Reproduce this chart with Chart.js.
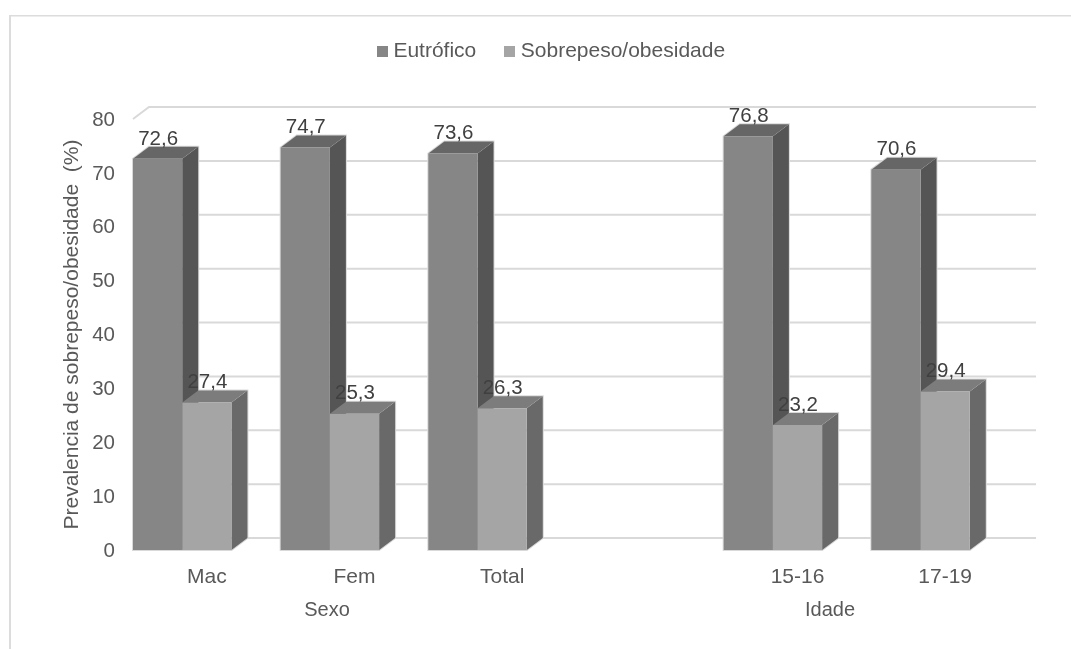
<!DOCTYPE html>
<html>
<head>
<meta charset="utf-8">
<title>Prevalencia de sobrepeso/obesidade</title>
<script src="https://cdn.jsdelivr.net/npm/chart.js@4/dist/chart.umd.js"></script>
<style>
  html, body { margin: 0; padding: 0; background: #fff; }
  canvas { display: block; }
</style>
</head>
<body>
<canvas id="canvas" width="1071" height="649"></canvas>
<script>
// categoria vazia separa Sexo de Idade
var categorias = ['Mac', 'Fem', 'Total', '', '15-16', '17-19'];
var eutrofico = [72.6, 74.7, 73.6, null, 76.8, 70.6];
var sobrepeso = [27.4, 25.3, 26.3, null, 23.2, 29.4];
var grupos = ['Sexo', 'Idade'];

var FONTE = '"Liberation Sans", Arial, sans-serif';
var PROF_X = 16, PROF_Y = 12; // profundidade das barras 3D

var toPoints = function (values) {
	var pts = [];
	values.forEach(function (v, i) {
		if (v !== null) pts.push({ x: i, y: v });
	});
	return pts;
};

// quadradinho da legenda, separado para ficar perto do texto
var legendBox = function (color) {
	var c = document.createElement('canvas');
	c.width = 11;
	c.height = 11;
	var g = c.getContext('2d');
	g.fillStyle = color;
	g.fillRect(0, 0, 11, 11);
	return c;
};

var tracePoly = function (ctx, pts) {
	ctx.beginPath();
	ctx.moveTo(pts[0][0], pts[0][1]);
	for (var i = 1; i < pts.length; i++) ctx.lineTo(pts[i][0], pts[i][1]);
	ctx.closePath();
};

var fillPoly = function (ctx, pts, color) {
	tracePoly(ctx, pts);
	ctx.fillStyle = color;
	ctx.fill();
};

var eachBar = function (chart, fn) {
	chart.data.datasets.forEach(function (ds, i) {
		chart.getDatasetMeta(i).data.forEach(function (bar, j) {
			var p = bar.getProps(['x', 'y', 'base', 'width'], true);
			fn(ds, j, p, p.x - p.width / 2, p.x + p.width / 2);
		});
	});
};

var cena3d = {
	id: 'cena3d',
	afterLayout: function (chart) {
		// legenda centrada fora do eixo do canvas
		chart.legend.left = 18;
		chart.legend.right = 1089;
		chart.legend.top = 8;
	},
	beforeDraw: function (chart) {
		var ctx = chart.ctx;
		ctx.save();
		ctx.fillStyle = '#dcdcdc';
		ctx.fillRect(9, 15, 1062, 1.5);
		ctx.fillRect(9, 15, 2, 634);
		ctx.restore();
	},
	beforeDatasetsDraw: function (chart) {
		var ctx = chart.ctx;
		var y = chart.scales.y;
		var left = chart.chartArea.left, right = chart.chartArea.right;
		ctx.save();

		// parede do fundo e parede esquerda
		ctx.strokeStyle = '#d9d9d9';
		ctx.lineWidth = 2;
		y.ticks.forEach(function (t) {
			var py = y.getPixelForValue(t.value);
			ctx.beginPath();
			ctx.moveTo(left, py);
			ctx.lineTo(left + PROF_X, py - PROF_Y);
			ctx.lineTo(right + PROF_X + 1, py - PROF_Y);
			ctx.stroke();
		});

		// contorno claro em volta de cada barra
		eachBar(chart, function (ds, j, p, x0, x1) {
			tracePoly(ctx, [[x0, p.y], [x0 + PROF_X, p.y - PROF_Y], [x1 + PROF_X, p.y - PROF_Y],
				[x1 + PROF_X, p.base - PROF_Y], [x1, p.base], [x0, p.base]]);
			ctx.strokeStyle = '#d9d9d9';
			ctx.lineWidth = 2;
			ctx.stroke();
		});

		// topo e lateral de cada barra
		eachBar(chart, function (ds, j, p, x0, x1) {
			fillPoly(ctx, [[x1, p.y], [x1 + PROF_X, p.y - PROF_Y], [x1 + PROF_X, p.base - PROF_Y], [x1, p.base]], ds.sideColor);
			fillPoly(ctx, [[x0, p.y], [x0 + PROF_X, p.y - PROF_Y], [x1 + PROF_X, p.y - PROF_Y], [x1, p.y]], ds.topColor);
		});
		ctx.restore();
	},
	afterDatasetsDraw: function (chart) {
		var ctx = chart.ctx;
		ctx.save();
		ctx.textAlign = 'center';
		ctx.textBaseline = 'middle';

		// rotulos de valor com virgula decimal
		ctx.font = '20.5px ' + FONTE;
		ctx.fillStyle = '#404040';
		eachBar(chart, function (ds, j, p) {
			ctx.fillText(ds.data[j].y.toFixed(1).replace('.', ','), p.x + 0.5, p.y - 20);
		});

		// segundo nivel do eixo x
		ctx.font = '20px ' + FONTE;
		ctx.fillStyle = '#595959';
		ctx.fillText(grupos[0], 327, 610);
		ctx.fillText(grupos[1], 830, 610);
		ctx.restore();
	}
};

var ctx = document.getElementById('canvas').getContext('2d');
window.prevalenciaChart = new Chart(ctx, {
	type: 'bar',
	data: {
		labels: categorias,
		datasets: [{
			label: 'Eutrófico',
			data: toPoints(eutrofico),
			backgroundColor: '#868686',
			sideColor: '#555555',
			topColor: '#666666',
			xAxisID: 'x',
			yAxisID: 'y'
		}, {
			label: 'Sobrepeso/obesidade',
			data: toPoints(sobrepeso),
			backgroundColor: '#a5a5a5',
			sideColor: '#696969',
			topColor: '#7c7c7c',
			xAxisID: 'x',
			yAxisID: 'y'
		}]
	},
	plugins: [cena3d],
	options: {
		responsive: false,
		animation: false,
		categoryPercentage: 2 / 3,
		barPercentage: 1,
		layout: { padding: { top: 59, left: 60, right: 52, bottom: 0 } },
		scales: {
			// eixo das barras, deslocado para a esquerda como nos graficos 3D
			x: {
				type: 'linear',
				display: false,
				offset: false,
				min: -1 / 3,
				max: 17 / 3
			},
			xLabels: {
				type: 'category',
				position: 'bottom',
				offset: true,
				grid: { display: false, drawTicks: false },
				border: { display: false },
				ticks: {
					color: '#595959',
					font: { family: FONTE, size: 21 },
					padding: 15,
					maxRotation: 0,
					autoSkip: false
				},
				afterFit: function (scale) { scale.height = 99; }
			},
			y: {
				min: 0,
				max: 80,
				grid: { display: false, drawTicks: false },
				border: { display: false },
				ticks: {
					stepSize: 10,
					color: '#595959',
					font: { family: FONTE, size: 20.5 },
					padding: 18,
					labelOffset: 1
				},
				title: {
					display: true,
					text: 'Prevalencia de sobrepeso/obesidade  (%)',
					color: '#595959',
					font: { family: FONTE, size: 21, weight: 'normal' },
					padding: 0
				},
				afterFit: function (scale) { scale.width = 73; }
			}
		},
		plugins: {
			tooltip: { enabled: false },
			legend: {
				position: 'top',
				maxHeight: 60,
				labels: {
					color: '#595959',
					font: { family: FONTE, size: 21 },
					padding: 33,
					usePointStyle: true,
					pointStyleWidth: 1,
					boxHeight: 11,
					generateLabels: function (chart) {
						var items = Chart.defaults.plugins.legend.labels.generateLabels(chart);
						items.forEach(function (item, i) {
							item.pointStyle = legendBox(chart.data.datasets[i].backgroundColor);
						});
						return items;
					}
				}
			}
		}
	}
});
</script>
</body>
</html>
